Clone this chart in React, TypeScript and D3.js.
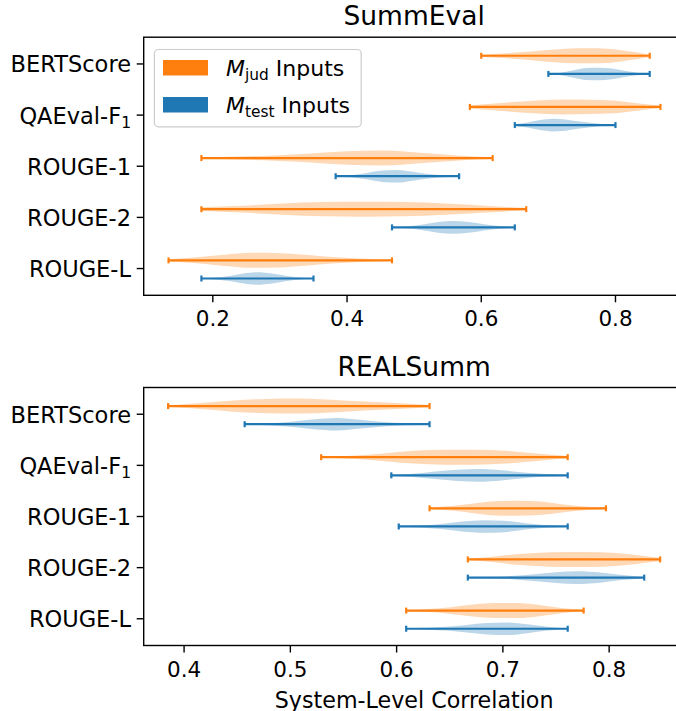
import * as d3 from "d3";

// metric names (y tick labels), subscripts drawn smaller
const METRICS = ["BERTScore", "QAEval-F", "ROUGE-1", "ROUGE-2", "ROUGE-L"];
const METRIC_SUBS = ["", "1", "", "", ""];

// SummEval: min / max of each violin, and relative density read along the range
const SUMMEVAL_JUD_MIN = [0.6, 0.583, 0.183, 0.183, 0.134];
const SUMMEVAL_JUD_MAX = [0.851, 0.867, 0.617, 0.667, 0.467];
const SUMMEVAL_JUD_SHAPE = [
  [0.15, 0.3, 0.5, 0.75, 0.95, 1, 0.95, 0.6, 0.15],
  [0.2, 0.45, 0.7, 0.9, 1, 0.95, 0.85, 0.5, 0.15],
  [0.1, 0.2, 0.35, 0.6, 0.9, 1, 0.7, 0.35, 0.1],
  [0.25, 0.45, 0.75, 0.95, 1, 0.95, 0.75, 0.45, 0.15],
  [0.15, 0.4, 0.75, 1, 0.95, 0.7, 0.4, 0.2, 0.1],
];
const SUMMEVAL_TEST_MIN = [0.7, 0.65, 0.383, 0.467, 0.183];
const SUMMEVAL_TEST_MAX = [0.851, 0.8, 0.567, 0.65, 0.35];
const SUMMEVAL_TEST_SHAPE = [
  [0.05, 0.2, 0.6, 0.95, 1, 0.85, 0.5, 0.2, 0.05],
  [0.1, 0.4, 0.8, 1, 0.9, 0.6, 0.35, 0.15, 0.05],
  [0.05, 0.15, 0.5, 0.9, 1, 0.7, 0.35, 0.15, 0.05],
  [0.05, 0.15, 0.45, 0.85, 1, 0.85, 0.5, 0.2, 0.05],
  [0.05, 0.15, 0.4, 0.8, 1, 0.8, 0.45, 0.15, 0.05],
];

// REALSumm
const REALSUMM_JUD_MIN = [0.385, 0.529, 0.631, 0.667, 0.609];
const REALSUMM_JUD_MAX = [0.631, 0.761, 0.797, 0.848, 0.776];
const REALSUMM_JUD_SHAPE = [
  [0.1, 0.4, 0.75, 0.95, 1, 0.85, 0.6, 0.4, 0.15],
  [0.05, 0.2, 0.5, 0.85, 1, 1, 0.85, 0.5, 0.15],
  [0.1, 0.3, 0.65, 0.95, 1, 0.9, 0.55, 0.25, 0.1],
  [0.1, 0.35, 0.7, 0.9, 1, 1, 0.9, 0.6, 0.2],
  [0.05, 0.2, 0.45, 0.8, 1, 1, 0.75, 0.35, 0.1],
];
const REALSUMM_TEST_MIN = [0.457, 0.595, 0.602, 0.667, 0.609];
const REALSUMM_TEST_MAX = [0.631, 0.761, 0.761, 0.833, 0.761];
const REALSUMM_TEST_SHAPE = [
  [0.05, 0.15, 0.4, 0.8, 1, 0.7, 0.35, 0.15, 0.05],
  [0.05, 0.25, 0.6, 0.9, 1, 0.8, 0.45, 0.2, 0.05],
  [0.05, 0.15, 0.4, 0.8, 1, 0.9, 0.5, 0.2, 0.05],
  [0.05, 0.1, 0.25, 0.55, 0.85, 1, 0.8, 0.4, 0.1],
  [0.05, 0.15, 0.3, 0.6, 0.9, 1, 0.7, 0.3, 0.05],
];

const SUMMEVAL_TICKS = [0.2, 0.4, 0.6, 0.8];
const REALSUMM_TICKS = [0.4, 0.5, 0.6, 0.7, 0.8];

const ORANGE = "#ff7f0e";
const BLUE = "#1f77b4";
const FONT = "DejaVu Sans";

const W = 676;
const H = 711;
const LEFT = 143.7;
const RIGHT = 684.6;

type Series = { min: number[]; max: number[]; shape: number[][] };

const violinArea = d3
  .area<{ v: number; w: number }>()
  .curve(d3.curveMonotoneX);

function Violins({
  s,
  x,
  yPos,
  color,
  half,
}: {
  s: Series;
  x: d3.ScaleLinear<number, number>;
  yPos: (i: number) => number;
  color: string;
  half: number;
}) {
  return (
    <g>
      {METRICS.map((_, i) => {
        const cy = yPos(i);
        const n = s.shape[i].length;
        const pts = s.shape[i].map((w, k) => ({
          v: s.min[i] + ((s.max[i] - s.min[i]) * k) / (n - 1),
          w,
        }));
        const path = violinArea
          .x((d) => x(d.v))
          .y0((d) => cy - d.w * half)
          .y1((d) => cy + d.w * half)(pts);
        const x0 = x(s.min[i]);
        const x1 = x(s.max[i]);
        return (
          <g key={i}>
            <path d={path || ""} fill={color} fillOpacity={0.3} />
            <line x1={x0} x2={x1} y1={cy} y2={cy} stroke={color} strokeWidth={2.2} />
            <line x1={x0} x2={x0} y1={cy - 3} y2={cy + 3} stroke={color} strokeWidth={2.2} />
            <line x1={x1} x2={x1} y1={cy - 3} y2={cy + 3} stroke={color} strokeWidth={2.2} />
          </g>
        );
      })}
    </g>
  );
}

function Panel({
  title,
  top,
  bottom,
  domain,
  ticks,
  jud,
  test,
  legend,
  xlabel,
}: {
  title: string;
  top: number;
  bottom: number;
  domain: [number, number];
  ticks: number[];
  jud: Series;
  test: Series;
  legend?: boolean;
  xlabel?: string;
}) {
  const x = d3.scaleLinear().domain(domain).range([LEFT, RIGHT]);
  const y = d3.scaleLinear().domain([0.477, 5.523]).range([top, bottom]);
  const fmt = d3.format(".1f");
  return (
    <g>
      <text
        x={(LEFT + RIGHT) / 2}
        y={top - 12}
        textAnchor="middle"
        fontSize={26.5}
        fontFamily={FONT}
      >
        {title}
      </text>
      <Violins s={jud} x={x} yPos={(i) => y(i + 1 - 0.16)} color={ORANGE} half={7.5} />
      <Violins s={test} x={x} yPos={(i) => y(i + 1 + 0.195)} color={BLUE} half={6.3} />
      <rect
        x={LEFT}
        y={top}
        width={RIGHT - LEFT}
        height={bottom - top}
        fill="none"
        stroke="#000"
        strokeWidth={1.4}
      />
      {METRICS.map((m, i) => (
        <g key={m}>
          <line x1={LEFT - 7} x2={LEFT} y1={y(i + 1)} y2={y(i + 1)} stroke="#000" strokeWidth={1.4} />
          <text
            x={131}
            y={y(i + 1) + 8.5}
            textAnchor="end"
            fontSize={22.5}
            fontFamily={FONT}
          >
            {m}
            {METRIC_SUBS[i] && (
              <tspan fontSize={15.5} dy={4}>
                {METRIC_SUBS[i]}
              </tspan>
            )}
          </text>
        </g>
      ))}
      {ticks.map((t) => (
        <g key={t}>
          <line x1={x(t)} x2={x(t)} y1={bottom} y2={bottom + 7} stroke="#000" strokeWidth={1.4} />
          <text
            x={x(t)}
            y={bottom + 31}
            textAnchor="middle"
            fontSize={21.5}
            fontFamily={FONT}
          >
            {fmt(t)}
          </text>
        </g>
      ))}
      {xlabel && (
        <text
          x={(LEFT + RIGHT) / 2}
          y={bottom + 62}
          textAnchor="middle"
          fontSize={22.2}
          fontFamily={FONT}
        >
          {xlabel}
        </text>
      )}
      {legend && (
        <g fontFamily={FONT}>
          <rect
            x={154.4}
            y={49.5}
            width={206.8}
            height={77.3}
            rx={4}
            fill="#fff"
            fillOpacity={0.8}
            stroke="#cccccc"
            strokeWidth={1.2}
          />
          <rect x={163} y={60} width={45} height={15.5} fill={ORANGE} />
          <rect x={163} y={97} width={45} height={15.5} fill={BLUE} />
          <text x={226} y={76} fontSize={22}>
            <tspan fontStyle="italic">M</tspan>
            <tspan fontSize={15.4} dy={4}>jud</tspan>
            <tspan dy={-4} dx={7}>Inputs</tspan>
          </text>
          <text x={226} y={112.7} fontSize={22}>
            <tspan fontStyle="italic">M</tspan>
            <tspan fontSize={15.4} dy={4}>test</tspan>
            <tspan dy={-4} dx={7}>Inputs</tspan>
          </text>
        </g>
      )}
    </g>
  );
}

export default function App() {
  return (
    <svg
      width={W}
      height={H}
      style={{ position: "absolute", left: 0, top: 0, background: "#fff" }}
    >
      <Panel
        title="SummEval"
        top={37.2}
        bottom={295.3}
        domain={[0.097, 0.903]}
        ticks={SUMMEVAL_TICKS}
        jud={{ min: SUMMEVAL_JUD_MIN, max: SUMMEVAL_JUD_MAX, shape: SUMMEVAL_JUD_SHAPE }}
        test={{ min: SUMMEVAL_TEST_MIN, max: SUMMEVAL_TEST_MAX, shape: SUMMEVAL_TEST_SHAPE }}
        legend
      />
      <Panel
        title="REALSumm"
        top={387.5}
        bottom={645.5}
        domain={[0.362, 0.871]}
        ticks={REALSUMM_TICKS}
        jud={{ min: REALSUMM_JUD_MIN, max: REALSUMM_JUD_MAX, shape: REALSUMM_JUD_SHAPE }}
        test={{ min: REALSUMM_TEST_MIN, max: REALSUMM_TEST_MAX, shape: REALSUMM_TEST_SHAPE }}
        xlabel="System-Level Correlation"
      />
    </svg>
  );
}
